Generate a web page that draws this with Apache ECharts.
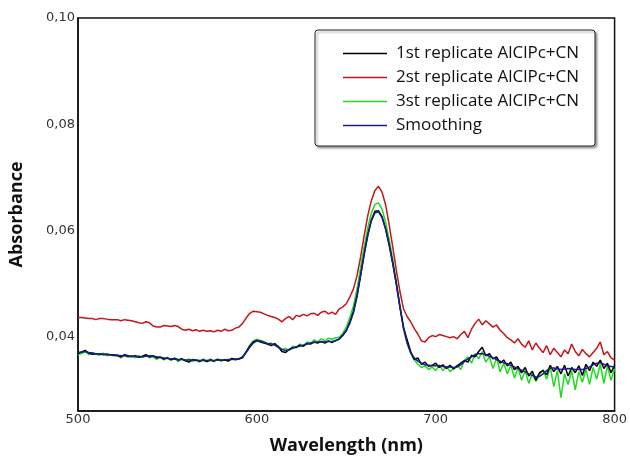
<!DOCTYPE html>
<html>
<head>
<meta charset="utf-8">
<script src="https://cdn.jsdelivr.net/npm/echarts@6/dist/echarts.min.js"></script>
<style>
  html, body { margin: 0; padding: 0; background: #fff; }
  #chart { width: 630px; height: 465px; }
</style>
</head>
<body>
<div id="chart"></div>
<script>
// wavelength grid (nm), one value every 2 nm from 500 to 800
const wavelength = [
  500,502,504,506,508,510,512,514,516,518,520,522,524,526,528,530,532,534,536,538,
  540,542,544,546,548,550,552,554,556,558,560,562,564,566,568,570,572,574,576,578,
  580,582,584,586,588,590,592,594,596,598,600,602,604,606,608,610,612,614,616,618,
  620,622,624,626,628,630,632,634,636,638,640,642,644,646,648,650,652,654,656,658,
  660,662,664,666,668,670,672,674,676,678,680,682,684,686,688,690,692,694,696,698,
  700,702,704,706,708,710,712,714,716,718,720,722,724,726,728,730,732,734,736,738,
  740,742,744,746,748,750,752,754,756,758,760,762,764,766,768,770,772,774,776,778,
  780,782,784,786,788,790,792,794,796,798,800
];

const replicate1 = [
  0.0368,0.0371,0.0374,0.0369,0.0367,0.0368,0.0368,0.0366,0.0367,0.0366,0.0365,0.0364,0.0362,0.0366,0.0364,0.0362,0.0364,0.0361,0.0363,0.0366,
  0.0362,0.0364,0.0360,0.0361,0.0358,0.0360,0.0357,0.0359,0.0356,0.0358,0.0355,0.0352,0.0357,0.0355,0.0354,0.0356,0.0353,0.0356,0.0354,0.0357,
  0.0355,0.0356,0.0354,0.0359,0.0357,0.0358,0.0360,0.0371,0.0382,0.0390,0.0393,0.0390,0.0388,0.0386,0.0383,0.0387,0.0381,0.0372,0.0370,0.0376,
  0.0379,0.0380,0.0384,0.0382,0.0387,0.0386,0.0390,0.0388,0.0391,0.0388,0.0392,0.0389,0.0393,0.0395,0.0402,0.0411,0.0428,0.0448,0.0478,0.0516,
  0.0556,0.0592,0.0620,0.0636,0.0637,0.0626,0.0603,0.0573,0.0538,0.0499,0.0456,0.0418,0.0394,0.0372,0.0357,0.0360,0.0348,0.0352,0.0344,0.0346,
  0.0350,0.0342,0.0347,0.0340,0.0346,0.0339,0.0345,0.0350,0.0355,0.0352,0.0365,0.0362,0.0372,0.0380,0.0364,0.0368,0.0358,0.0362,0.0350,0.0356,
  0.0345,0.0352,0.0338,0.0344,0.0332,0.0342,0.0326,0.0335,0.0318,0.0332,0.0336,0.0328,0.0346,0.0334,0.0344,0.0330,0.0346,0.0326,0.0342,0.0332,
  0.0345,0.0327,0.0348,0.0336,0.0352,0.0344,0.0356,0.0340,0.0350,0.0332,0.0346
];

const replicate2 = [
  0.0436,0.0436,0.0435,0.0434,0.0434,0.0432,0.0434,0.0434,0.0433,0.0432,0.0432,0.0432,0.0430,0.0432,0.0431,0.0430,0.0428,0.0426,0.0425,0.0428,
  0.0426,0.0420,0.0418,0.0418,0.0421,0.0420,0.0419,0.0421,0.0419,0.0414,0.0412,0.0414,0.0411,0.0413,0.0410,0.0412,0.0410,0.0411,0.0409,0.0412,
  0.0410,0.0414,0.0411,0.0412,0.0416,0.0418,0.0425,0.0435,0.0444,0.0448,0.0447,0.0446,0.0443,0.0440,0.0438,0.0436,0.0433,0.0428,0.0434,0.0438,
  0.0432,0.0440,0.0438,0.0442,0.0439,0.0443,0.0444,0.0440,0.0446,0.0448,0.0443,0.0446,0.0442,0.0452,0.0456,0.0462,0.0475,0.0490,0.0515,0.0550,
  0.0590,0.0628,0.0656,0.0675,0.0683,0.0672,0.0648,0.0610,0.0568,0.0525,0.0485,0.0452,0.0438,0.0428,0.0415,0.0405,0.0392,0.0390,0.0398,0.0402,
  0.0400,0.0404,0.0402,0.0400,0.0398,0.0400,0.0396,0.0404,0.0410,0.0398,0.0414,0.0425,0.0433,0.0422,0.0430,0.0424,0.0418,0.0422,0.0412,0.0406,
  0.0398,0.0394,0.0388,0.0396,0.0386,0.0380,0.0392,0.0375,0.0388,0.0378,0.0370,0.0383,0.0366,0.0378,0.0370,0.0362,0.0375,0.0368,0.0386,0.0372,
  0.0364,0.0376,0.0368,0.0362,0.0370,0.0378,0.0390,0.0366,0.0372,0.0360,0.0356
];

const replicate3 = [
  0.0366,0.0368,0.0372,0.0366,0.0370,0.0367,0.0365,0.0369,0.0364,0.0366,0.0364,0.0366,0.0360,0.0365,0.0361,0.0364,0.0360,0.0364,0.0361,0.0365,
  0.0360,0.0362,0.0357,0.0362,0.0356,0.0361,0.0355,0.0360,0.0353,0.0359,0.0354,0.0358,0.0353,0.0357,0.0352,0.0358,0.0354,0.0358,0.0353,0.0358,
  0.0354,0.0357,0.0355,0.0358,0.0356,0.0359,0.0362,0.0372,0.0384,0.0392,0.0395,0.0393,0.0391,0.0386,0.0388,0.0384,0.0382,0.0376,0.0378,0.0374,
  0.0382,0.0379,0.0386,0.0383,0.0390,0.0387,0.0394,0.0390,0.0396,0.0392,0.0397,0.0395,0.0398,0.0399,0.0406,0.0418,0.0436,0.0458,0.0490,0.0530,
  0.0570,0.0605,0.0633,0.0649,0.0652,0.0640,0.0615,0.0582,0.0545,0.0503,0.0458,0.0415,0.0388,0.0368,0.0356,0.0348,0.0342,0.0345,0.0338,0.0343,
  0.0336,0.0347,0.0336,0.0344,0.0334,0.0340,0.0346,0.0338,0.0355,0.0362,0.0350,0.0368,0.0358,0.0372,0.0352,0.0362,0.0340,0.0360,0.0334,0.0350,
  0.0330,0.0346,0.0322,0.0342,0.0318,0.0336,0.0312,0.0330,0.0316,0.0328,0.0338,0.0320,0.0343,0.0306,0.0336,0.0285,0.0330,0.0310,0.0336,0.0300,
  0.0334,0.0314,0.0338,0.0310,0.0342,0.0320,0.0348,0.0312,0.0345,0.0318,0.0340
];

const smoothing = [
  0.0370,0.0371,0.0372,0.0370,0.0369,0.0368,0.0368,0.0367,0.0367,0.0366,0.0366,0.0365,0.0364,0.0364,0.0363,0.0363,0.0363,0.0362,0.0362,0.0363,
  0.0364,0.0363,0.0362,0.0361,0.0360,0.0359,0.0358,0.0358,0.0357,0.0357,0.0356,0.0356,0.0356,0.0356,0.0355,0.0355,0.0355,0.0355,0.0355,0.0356,
  0.0356,0.0356,0.0357,0.0357,0.0358,0.0358,0.0362,0.0370,0.0380,0.0388,0.0392,0.0392,0.0389,0.0387,0.0386,0.0384,0.0380,0.0376,0.0374,0.0375,
  0.0378,0.0381,0.0382,0.0384,0.0386,0.0388,0.0389,0.0390,0.0390,0.0390,0.0391,0.0391,0.0392,0.0396,0.0403,0.0412,0.0425,0.0445,0.0475,0.0515,
  0.0555,0.0590,0.0618,0.0633,0.0635,0.0624,0.0602,0.0572,0.0537,0.0498,0.0455,0.0415,0.0388,0.0370,0.0360,0.0354,0.0350,0.0347,0.0346,0.0345,
  0.0345,0.0345,0.0344,0.0343,0.0343,0.0342,0.0343,0.0347,0.0353,0.0358,0.0362,0.0366,0.0368,0.0368,0.0366,0.0363,0.0360,0.0357,0.0354,0.0351,
  0.0349,0.0346,0.0343,0.0340,0.0337,0.0334,0.0330,0.0327,0.0324,0.0325,0.0330,0.0336,0.0341,0.0341,0.0339,0.0338,0.0339,0.0340,0.0339,0.0338,
  0.0338,0.0338,0.0340,0.0343,0.0347,0.0350,0.0351,0.0348,0.0345,0.0344,0.0343
];

const seriesNames = [
  "1st replicate AlClPc+CN",
  "2st replicate AlClPc+CN",
  "3st replicate AlClPc+CN",
  "Smoothing"
];
const yTicks = [0.04, 0.06, 0.08, 0.10];
const xTicks = [500, 600, 700, 800];

const pairs = (vals) => wavelength.map((w, i) => [w, vals[i]]);

const chart = echarts.init(document.getElementById("chart"), null, { renderer: "canvas" });

const lineSeries = (name, vals, color, z) => ({
  name,
  type: "line",
  data: pairs(vals),
  symbol: "none",
  z,
  lineStyle: { color, width: 1.5 },
  itemStyle: { color },
});

chart.setOption({
  animation: false,
  backgroundColor: "#fff",
  grid: {
    left: 77,
    right: 13,
    top: 18,
    bottom: 54,
    show: true,
    borderColor: "#111",
    borderWidth: 1.5,
  },
  legend: {
    data: seriesNames,
    orient: "vertical",
    left: 315,
    top: 30,
    icon: "rect",
    itemWidth: 44,
    itemHeight: 1.5,
    itemGap: 7,
    padding: [15, 16, 12, 28],
    borderColor: "#222",
    borderWidth: 1,
    borderRadius: 3,
    backgroundColor: "#fff",
    shadowColor: "rgba(0,0,0,0.35)",
    shadowOffsetX: 2,
    shadowOffsetY: 2,
    shadowBlur: 2,
    textStyle: {
      fontFamily: "Open Sans",
      fontSize: 17,
      lineHeight: 16,
      color: "#111",
      padding: [0, 0, 0, 4],
    },
  },
  xAxis: {
    type: "value",
    min: 500,
    max: 800,
    interval: 100,
    name: "Wavelength (nm)",
    nameLocation: "middle",
    nameGap: 26,
    nameTextStyle: { fontFamily: "Open Sans", fontWeight: "bold", fontSize: 18, color: "#111" },
    axisLine: { lineStyle: { color: "#111", width: 1.5 } },
    axisTick: { show: false },
    splitLine: { show: false },
    axisLabel: {
      customValues: xTicks,
      margin: 2,
      fontFamily: "DejaVu Sans",
      fontSize: 13,
      color: "#333",
    },
  },
  yAxis: {
    type: "value",
    min: 0.026,
    max: 0.1,
    name: "Absorbance",
    nameLocation: "middle",
    nameGap: 52,
    nameTextStyle: { fontFamily: "Open Sans", fontWeight: "bold", fontSize: 18, color: "#111" },
    axisLine: { show: true, lineStyle: { color: "#111", width: 1.5 } },
    axisTick: { show: false },
    splitLine: { show: false },
    axisLabel: {
      customValues: yTicks,
      margin: 3,
      fontFamily: "DejaVu Sans",
      fontSize: 13,
      color: "#333",
      formatter: (v) => v.toFixed(2).replace(".", ","),
    },
  },
  series: [
    lineSeries(seriesNames[1], replicate2, "#c4161c", 2),
    lineSeries(seriesNames[2], replicate3, "#1fdc1f", 3),
    lineSeries(seriesNames[0], replicate1, "#000000", 4),
    lineSeries(seriesNames[3], smoothing, "#1c1c8c", 5),
  ],
});

window.addEventListener("resize", () => chart.resize());
</script>
</body>
</html>
